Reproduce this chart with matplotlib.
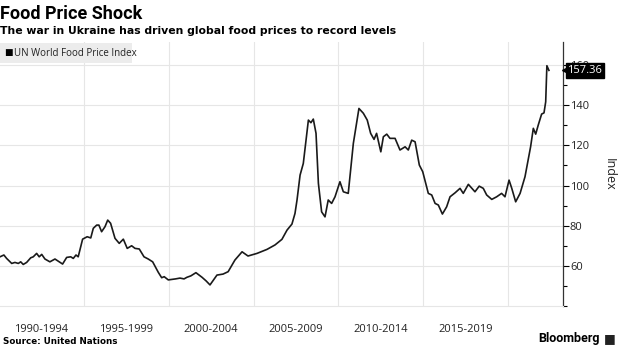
import matplotlib
matplotlib.use("Agg")
import matplotlib.pyplot as plt
import matplotlib.transforms as mtransforms
from matplotlib.patches import Rectangle

# FAO food price index (decimal year, index)
years = [1990.05, 1990.28, 1990.44, 1990.74, 1990.93, 1991.13, 1991.27, 1991.42, 1991.62, 1991.86,
         1992.01, 1992.21, 1992.36, 1992.51, 1992.70, 1992.99, 1993.29, 1993.54, 1993.74, 1993.98,
         1994.22, 1994.37, 1994.53, 1994.66, 1994.92, 1995.19, 1995.40, 1995.55, 1995.75, 1995.88,
         1996.04, 1996.24, 1996.40, 1996.57, 1996.83, 1997.08, 1997.32, 1997.55, 1997.81, 1998.01,
         1998.26, 1998.54, 1998.79, 1999.05, 1999.38, 1999.58, 1999.73, 1999.97,
         2000.4, 2000.66, 2000.9,
         2001.07, 2001.3, 2001.6, 2001.96, 2002.2, 2002.43, 2002.84, 2003.2, 2003.5, 2003.9,
         2004.32, 2004.67, 2005.2, 2005.79, 2006.26, 2006.67, 2006.97, 2007.26, 2007.44, 2007.56,
         2007.74, 2007.93, 2008.23, 2008.38, 2008.52, 2008.68, 2008.82, 2009.01, 2009.21, 2009.4,
         2009.6, 2009.8, 2010.09, 2010.29, 2010.58, 2010.88, 2011.21, 2011.47, 2011.7, 2011.9,
         2012.1, 2012.25, 2012.5, 2012.65, 2012.85, 2013.04, 2013.34, 2013.63, 2013.93, 2014.12,
         2014.32, 2014.52, 2014.77, 2014.97, 2015.3, 2015.5, 2015.7, 2015.89, 2016.13, 2016.38,
         2016.58, 2016.88, 2017.17, 2017.36, 2017.66, 2018.05, 2018.3, 2018.54, 2018.74, 2019.04,
         2019.33, 2019.62, 2019.82, 2020.06, 2020.22, 2020.45, 2020.71, 2021.0, 2021.2, 2021.33,
         2021.49, 2021.63, 2021.78, 2021.98, 2022.12, 2022.22, 2022.29, 2022.35, 2022.41]
index = [64.5, 65.4, 63.7, 61.2, 61.7, 61.2, 62.0, 60.7, 61.7, 64.0,
         64.5, 66.2, 64.5, 65.7, 63.4, 62.0, 63.4, 62.0, 60.9, 64.2,
         64.5, 63.7, 65.4, 64.5, 73.3, 74.5, 73.9, 78.7, 80.3, 80.3,
         77.0, 79.5, 82.8, 81.2, 73.7, 71.2, 73.3, 68.7, 70.0, 68.7,
         68.4, 64.5, 63.4, 62.0, 56.8, 54.1, 54.6, 53.0,
         53.5, 53.9, 53.5,
         54.3, 55.0, 56.6, 54.3, 52.5, 50.5, 55.4, 55.9, 57.1, 62.9,
         67.0, 64.9, 66.2, 68.2, 70.4, 73.2, 77.8, 80.8, 86.1, 92.8,
         105.2, 111.0, 132.6, 131.3, 133.1, 126.0, 101.1, 86.9, 84.4, 92.8,
         91.1, 94.4, 101.9, 96.9, 96.1, 121.0, 138.4, 136.0, 132.6, 126.0,
         123.0, 126.0, 116.8, 124.3, 125.6, 123.5, 123.5, 117.7, 119.3, 117.7,
         122.6, 121.8, 110.2, 106.9, 96.1, 95.3, 91.1, 90.3, 85.8, 89.4,
         94.4, 96.4, 98.6, 96.1, 100.6, 96.9, 99.7, 98.6, 95.3, 93.1,
         94.4, 96.1, 94.4, 102.7, 98.6, 91.9, 96.1, 104.4, 113.5, 119.3,
         128.5, 125.6, 130.1, 135.6, 136.2, 141.7, 159.7, 158.5, 157.36]

period_labels = ["1990-1994", "1995-1999", "2000-2004", "2005-2009", "2010-2014", "2015-2019"]
period_starts = [1990, 1995, 2000, 2005, 2010, 2015]
last_value = 157.36

fig = plt.figure(figsize=(6.2, 3.48), dpi=100)
ax = fig.add_axes([0, 42 / 348, 563 / 620, 264 / 348])

ax.plot(years, index, color="#1a1a1a", lw=1.2, zorder=3)

ax.set_xlim(1990.05, 2023.24)
ax.set_ylim(40, 171.5)

# vertical grid at 5-year boundaries, labels centered in each period
ax.set_xticks([1995, 2000, 2005, 2010, 2015, 2020])
ax.set_xticklabels([])
ax.set_xticks([s + 2.5 for s in period_starts], minor=True)
ax.set_xticklabels(period_labels, minor=True, fontsize=8, family="Open Sans", color="#222222")
ax.tick_params(axis="x", which="both", length=0, pad=13)
ax.grid(axis="x", which="major", color="#e6e6e6", lw=0.8)

ax.yaxis.tick_right()
ax.yaxis.set_label_position("right")
ax.set_yticks([60, 80, 100, 120, 140, 160])
ax.set_yticks([40, 50, 70, 90, 110, 130, 150], minor=True)
ax.tick_params(axis="y", which="major", length=4, width=0.8, pad=1, labelsize=8, labelcolor="#222222")
ax.tick_params(axis="y", which="minor", length=3, width=0.8)
for lab in ax.get_yticklabels():
    lab.set_family("Open Sans")
ax.grid(axis="y", which="major", color="#e6e6e6", lw=0.8)
ax.set_ylabel("Index", rotation=270, labelpad=19, fontsize=9, family="Open Sans", color="#222222")

for s in ["top", "left"]:
    ax.spines[s].set_visible(False)
ax.spines["bottom"].set_color("#e6e6e6")
ax.spines["right"].set_color("#333333")
ax.spines["right"].set_linewidth(0.9)

# last value tag (sits over the 160 label, as in the original)
tr = mtransforms.blended_transform_factory(ax.transAxes, ax.transData)
ax.text(1.008, last_value, "157.36", transform=tr, color="white", fontsize=8, family="Open Sans",
        va="center", ha="left", zorder=6,
        bbox=dict(boxstyle="square,pad=0.15", fc="black", ec="black"))
ax.plot([1.004], [last_value], marker="<", ms=5, color="black", transform=tr, clip_on=False, zorder=6)

# legend box
fig.patches.append(Rectangle((0, 1 - 63 / 348), 132 / 620, 20 / 348, transform=fig.transFigure,
                             fc="#ececec", ec="none", zorder=5))
fig.text(4 / 620, 1 - 53 / 348, "\u25a0", fontsize=6.5, va="center", ha="left", color="black",
         family="DejaVu Sans", zorder=6)
fig.text(14 / 620, 1 - 53 / 348, "UN World Food Price Index", fontsize=7, va="center", ha="left",
         color="#222222", family="Open Sans", zorder=6)

fig.text(0, 1 - 19 / 348, "Food Price Shock", fontsize=13, fontweight="bold", family="Roboto",
         va="baseline", ha="left")
fig.text(0, 1 - 34 / 348, "The war in Ukraine has driven global food prices to record levels",
         fontsize=7.8, fontweight="bold", family="DejaVu Sans", va="baseline", ha="left")
fig.text(3 / 620, 1 - 344 / 348, "Source: United Nations", fontsize=6.3, fontweight="bold",
         family="DejaVu Sans", va="baseline", ha="left")
fig.text(600 / 620, 1 - 342 / 348, "Bloomberg", fontsize=9, fontweight="bold", family="Roboto",
         va="baseline", ha="right")
fig.text(604 / 620, 1 - 342 / 348, "\u25a0", fontsize=9, family="DejaVu Sans", va="baseline",
         ha="left", color="#222222")

fig.savefig("out.png", dpi=100)
